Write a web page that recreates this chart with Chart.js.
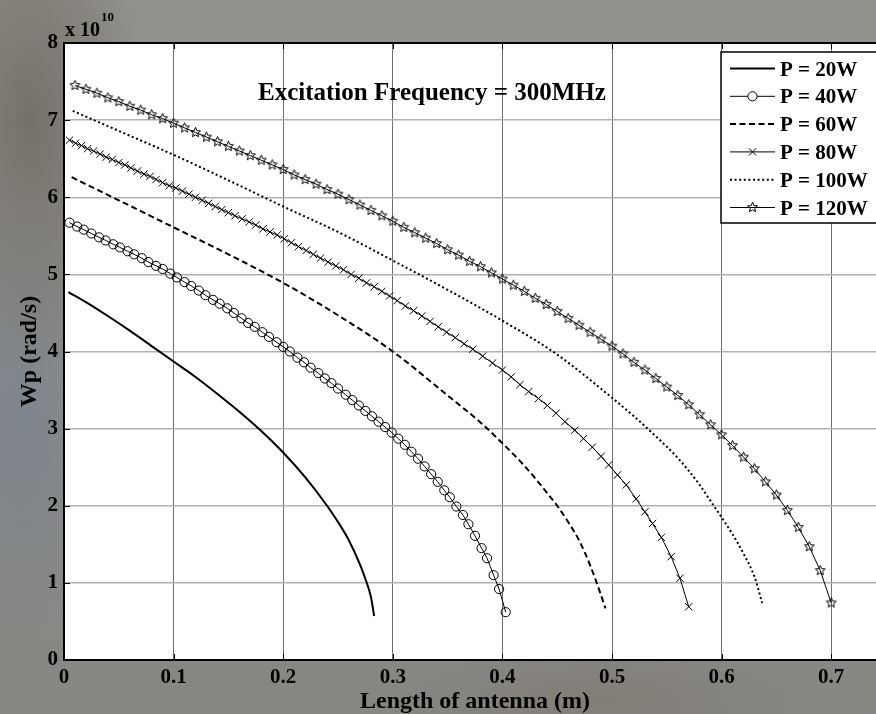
<!DOCTYPE html>
<html>
<head>
<meta charset="utf-8">
<title>Wp vs length of antenna</title>
<script src="https://cdn.jsdelivr.net/npm/chart.js@4.4.1/dist/chart.umd.min.js"></script>
<style>
  html, body { margin: 0; padding: 0; width: 876px; height: 714px; overflow: hidden; }
  body {
    background:
      radial-gradient(ellipse 120px 260px at 30px 120px, rgba(95, 88, 78, 0.55), transparent),
      radial-gradient(ellipse 90px 220px at 20px 420px, rgba(110, 125, 145, 0.45), transparent),
      radial-gradient(ellipse 200px 60px at 600px 700px, rgba(120, 110, 95, 0.35), transparent),
      linear-gradient(#93928c, #8c8c8a 55%, #878683);
  }
  canvas { display: block; }
</style>
</head>
<body>
<canvas id="wpChart" width="900" height="714"></canvas>
<script>
// --- Data (Wp in units of 1e10 rad/s, length in m) ---
const titleText = 'Excitation Frequency = 300MHz';
const xTitle = 'Length of antenna (m)';
const yTitle = 'Wp (rad/s)';
const seriesLabels = ['P = 20W', 'P = 40W', 'P = 60W', 'P = 80W', 'P = 100W', 'P = 120W'];

const len20 = [0.004, 0.02, 0.04, 0.06, 0.08, 0.10, 0.12, 0.14, 0.16, 0.18, 0.20, 0.22, 0.24, 0.25, 0.26, 0.27, 0.275, 0.28, 0.283];
const wp20 = [4.77, 4.64, 4.46, 4.27, 4.07, 3.87, 3.67, 3.45, 3.22, 2.97, 2.69, 2.37, 2.00, 1.79, 1.55, 1.24, 1.05, 0.82, 0.57];

const len40 = [0.005, 0.012, 0.018, 0.025, 0.032, 0.038, 0.045, 0.051, 0.058, 0.064, 0.071, 0.077, 0.084, 0.090, 0.097,
  0.103, 0.110, 0.116, 0.123, 0.129, 0.136, 0.142, 0.149, 0.155, 0.162, 0.168, 0.174, 0.181, 0.187, 0.194,
  0.200, 0.206, 0.213, 0.219, 0.225, 0.232, 0.238, 0.244, 0.250, 0.257, 0.263, 0.269, 0.275, 0.281, 0.287,
  0.293, 0.299, 0.305, 0.311, 0.317, 0.323, 0.329, 0.335, 0.341, 0.347, 0.352, 0.358, 0.364, 0.369, 0.375,
  0.381, 0.386, 0.392, 0.397, 0.403];
const wp40 = [5.67, 5.62, 5.58, 5.53, 5.48, 5.44, 5.39, 5.35, 5.30, 5.26, 5.21, 5.16, 5.11, 5.07, 5.01,
  4.96, 4.90, 4.85, 4.79, 4.73, 4.67, 4.62, 4.56, 4.50, 4.43, 4.37, 4.32, 4.25, 4.19, 4.12,
  4.06, 4.00, 3.92, 3.86, 3.79, 3.72, 3.65, 3.59, 3.52, 3.44, 3.37, 3.30, 3.23, 3.16, 3.09,
  3.02, 2.95, 2.87, 2.79, 2.70, 2.61, 2.51, 2.41, 2.31, 2.20, 2.11, 1.99, 1.88, 1.76, 1.61,
  1.45, 1.32, 1.10, 0.92, 0.62];

const len60 = [0.007, 0.05, 0.10, 0.15, 0.20, 0.25, 0.30, 0.35, 0.38, 0.40, 0.42, 0.44, 0.45, 0.46, 0.47, 0.48, 0.49, 0.494];
const wp60 = [6.26, 5.96, 5.61, 5.26, 4.89, 4.47, 4.00, 3.43, 3.08, 2.81, 2.52, 2.18, 2.00, 1.79, 1.55, 1.23, 0.84, 0.67];

const len80 = [0.005, 0.0105, 0.016, 0.0215, 0.027, 0.033, 0.0385, 0.044, 0.050, 0.0555, 0.061, 0.067, 0.073, 0.0785, 0.084,
  0.090, 0.096, 0.102, 0.108, 0.114, 0.120, 0.126, 0.132, 0.138, 0.144, 0.150, 0.156, 0.1625, 0.169, 0.175,
  0.1815, 0.188, 0.1945, 0.201, 0.2075, 0.214, 0.221, 0.2275, 0.234, 0.241, 0.248, 0.255, 0.262, 0.269, 0.276,
  0.283, 0.290, 0.297, 0.304, 0.3115, 0.319, 0.3265, 0.334, 0.3415, 0.349, 0.357, 0.365, 0.373, 0.382, 0.391,
  0.400, 0.408, 0.416, 0.424, 0.433, 0.441, 0.449, 0.457, 0.466, 0.474, 0.482, 0.490, 0.497, 0.505, 0.513,
  0.522, 0.530, 0.537, 0.545, 0.554, 0.562, 0.570];
const wp80 = [6.74, 6.70, 6.67, 6.63, 6.60, 6.56, 6.52, 6.49, 6.45, 6.42, 6.38, 6.34, 6.30, 6.27, 6.23,
  6.19, 6.15, 6.12, 6.08, 6.04, 6.00, 5.96, 5.92, 5.88, 5.84, 5.80, 5.76, 5.72, 5.68, 5.64,
  5.59, 5.55, 5.51, 5.46, 5.41, 5.36, 5.31, 5.26, 5.21, 5.16, 5.11, 5.06, 5.00, 4.95, 4.89,
  4.84, 4.78, 4.72, 4.66, 4.59, 4.53, 4.46, 4.39, 4.32, 4.25, 4.18, 4.10, 4.03, 3.94, 3.85,
  3.76, 3.67, 3.57, 3.48, 3.39, 3.30, 3.20, 3.09, 2.98, 2.87, 2.76, 2.64, 2.53, 2.40, 2.27,
  2.09, 1.92, 1.77, 1.59, 1.34, 1.06, 0.69];

const len100 = [0.008, 0.05, 0.10, 0.15, 0.20, 0.25, 0.30, 0.35, 0.40, 0.45, 0.50, 0.52, 0.54, 0.56, 0.58, 0.59, 0.60, 0.61, 0.62, 0.63, 0.637];
const wp100 = [7.12, 6.86, 6.55, 6.22, 5.88, 5.55, 5.18, 4.80, 4.40, 3.96, 3.40, 3.16, 2.90, 2.62, 2.27, 2.06, 1.85, 1.63, 1.38, 1.08, 0.74];

const len120 = [0.01, 0.02, 0.03, 0.04, 0.05, 0.06, 0.07, 0.08, 0.09, 0.10,
  0.11, 0.12, 0.13, 0.14, 0.15, 0.16, 0.17, 0.18, 0.19, 0.20,
  0.21, 0.22, 0.23, 0.24, 0.25, 0.26, 0.27, 0.28, 0.29, 0.30,
  0.31, 0.32, 0.33, 0.34, 0.35, 0.36, 0.37, 0.38, 0.39, 0.40,
  0.41, 0.42, 0.43, 0.44, 0.45, 0.46, 0.47, 0.48, 0.49, 0.50,
  0.51, 0.52, 0.53, 0.54, 0.55, 0.56, 0.57, 0.58, 0.59, 0.60,
  0.61, 0.62, 0.63, 0.64, 0.65, 0.66, 0.67, 0.68, 0.69, 0.70];
const wp120 = [7.45, 7.40, 7.35, 7.29, 7.24, 7.18, 7.13, 7.07, 7.02, 6.96,
  6.90, 6.84, 6.78, 6.72, 6.66, 6.60, 6.54, 6.48, 6.42, 6.36,
  6.29, 6.23, 6.17, 6.10, 6.04, 5.97, 5.90, 5.83, 5.76, 5.69,
  5.61, 5.54, 5.47, 5.40, 5.32, 5.25, 5.17, 5.10, 5.02, 4.94,
  4.86, 4.78, 4.69, 4.61, 4.52, 4.43, 4.34, 4.25, 4.16, 4.07,
  3.97, 3.86, 3.76, 3.65, 3.54, 3.43, 3.31, 3.18, 3.05, 2.92,
  2.78, 2.63, 2.48, 2.31, 2.14, 1.94, 1.72, 1.47, 1.16, 0.74];

const xTicksMax = 0.75;
const yTicksMax = 8;

// --- Helpers ---
const FONT = "'Liberation Serif', 'Times New Roman', serif";
const toPoints = (xs, ys) => xs.map((x, i) => ({ x: x, y: ys[i] }));

// hollow five-point star marker (Chart.js has no such point style)
const makeStar = (r) => {
    const size = Math.ceil(r * 2 + 4);
    const c = document.createElement('canvas');
    c.width = c.height = size;
    const g = c.getContext('2d');
    g.beginPath();
    for (let i = 0; i < 10; i++) {
        const rad = i % 2 === 0 ? r : r * 0.45;
        const ang = -Math.PI / 2 + i * Math.PI / 5;
        const px = size / 2 + rad * Math.cos(ang);
        const py = size / 2 + rad * Math.sin(ang);
        if (i === 0) g.moveTo(px, py); else g.lineTo(px, py);
    }
    g.closePath();
    g.strokeStyle = '#000';
    g.lineWidth = 1;
    g.stroke();
    return c;
};
const starImg = makeStar(5.2);

const lineOnly = { pointRadius: 0, cubicInterpolationMode: 'monotone', borderWidth: 2 };
const withMarks = { borderWidth: 1, pointBorderWidth: 1, pointBackgroundColor: 'rgba(0,0,0,0)', pointBorderColor: '#000' };

const datasets = [
    { label: seriesLabels[0], data: toPoints(len20, wp20), ...lineOnly },
    { label: seriesLabels[1], data: toPoints(len40, wp40), ...withMarks, pointStyle: 'circle', pointRadius: 4.6 },
    { label: seriesLabels[2], data: toPoints(len60, wp60), ...lineOnly, borderDash: [6, 3.5] },
    { label: seriesLabels[3], data: toPoints(len80, wp80), ...withMarks, pointStyle: 'crossRot', pointRadius: 5.2 },
    { label: seriesLabels[4], data: toPoints(len100, wp100), ...lineOnly, borderDash: [2, 2.6] },
    { label: seriesLabels[5], data: toPoints(len120, wp120), ...withMarks, pointStyle: starImg, pointRadius: 5.2 }
];
datasets.forEach(d => { d.borderColor = '#000'; d.fill = false; });

// --- Plot frame, inward ticks, title and MATLAB-like legend ---
const decorations = {
    id: 'decorations',
    beforeDraw(chart) {
        const { ctx, chartArea: a } = chart;
        ctx.save();
        ctx.fillStyle = '#fff';
        ctx.fillRect(a.left, a.top, a.right - a.left, a.bottom - a.top);
        ctx.restore();
    },
    afterDraw(chart) {
        const { ctx, chartArea: a, scales } = chart;
        ctx.save();

        // top edge of the box
        ctx.strokeStyle = '#000';
        ctx.lineWidth = 2;
        ctx.beginPath();
        ctx.moveTo(a.left, a.top);
        ctx.lineTo(a.right, a.top);
        ctx.stroke();

        // inward tick marks
        ctx.lineWidth = 1;
        ctx.beginPath();
        scales.x.ticks.forEach(t => {
            const px = Math.round(scales.x.getPixelForValue(t.value)) + 0.5;
            ctx.moveTo(px, a.bottom); ctx.lineTo(px, a.bottom - 6);
            ctx.moveTo(px, a.top); ctx.lineTo(px, a.top + 6);
        });
        scales.y.ticks.forEach(t => {
            const py = Math.round(scales.y.getPixelForValue(t.value)) + 0.5;
            ctx.moveTo(a.left, py); ctx.lineTo(a.left + 6, py);
        });
        ctx.stroke();

        // exponent label
        ctx.fillStyle = '#000';
        ctx.textAlign = 'left';
        ctx.textBaseline = 'alphabetic';
        ctx.font = `bold 20px ${FONT}`;
        ctx.fillText('x 10', a.left + 1, a.top - 7);
        const w = ctx.measureText('x 10').width;
        ctx.font = `bold 13px ${FONT}`;
        ctx.fillText('10', a.left + 2 + w, a.top - 22);

        // chart title inside the axes
        ctx.font = `bold 25px ${FONT}`;
        ctx.fillText(titleText, 258, 100);

        // legend box
        const box = { x: 721, y: 52, w: a.right - 8 - 721, h: 171 };
        ctx.fillStyle = '#fff';
        ctx.fillRect(box.x, box.y, box.w, box.h);
        ctx.strokeStyle = '#000';
        ctx.lineWidth = 1.5;
        ctx.strokeRect(box.x, box.y, box.w, box.h);

        const rowH = 27.8;
        chart.data.datasets.forEach((d, i) => {
            const cy = box.y + 16.5 + i * rowH;
            const x0 = box.x + 9, x1 = box.x + 54, xm = (x0 + x1) / 2;
            ctx.strokeStyle = '#000';
            ctx.lineWidth = d.borderWidth;
            ctx.setLineDash(d.borderDash || []);
            ctx.beginPath();
            ctx.moveTo(x0, cy);
            ctx.lineTo(x1, cy);
            ctx.stroke();
            ctx.setLineDash([]);
            ctx.lineWidth = 1;
            if (d.pointStyle === 'circle') {
                ctx.fillStyle = '#fff';
                ctx.beginPath();
                ctx.arc(xm, cy, d.pointRadius, 0, Math.PI * 2);
                ctx.fill();
                ctx.stroke();
            } else if (d.pointStyle === 'crossRot') {
                const r = d.pointRadius * 0.7;
                ctx.beginPath();
                ctx.moveTo(xm - r, cy - r); ctx.lineTo(xm + r, cy + r);
                ctx.moveTo(xm - r, cy + r); ctx.lineTo(xm + r, cy - r);
                ctx.stroke();
            } else if (d.pointStyle instanceof HTMLCanvasElement) {
                ctx.drawImage(d.pointStyle, xm - d.pointStyle.width / 2, cy - d.pointStyle.height / 2);
            }
            ctx.fillStyle = '#000';
            ctx.font = `bold 21px ${FONT}`;
            ctx.fillText(d.label, box.x + 59, cy + 7);
        });
        ctx.restore();
    }
};

const tickFont = { family: FONT, size: 21, weight: 'bold' };
const titleFont = { family: FONT, size: 24, weight: 'bold', lineHeight: 1 };

new Chart(document.getElementById('wpChart'), {
    type: 'line',
    data: { datasets: datasets },
    plugins: [decorations],
    options: {
        responsive: false,
        animation: false,
        layout: { padding: { left: 0, top: 43, right: 14, bottom: 0 } },
        plugins: { legend: { display: false }, tooltip: { enabled: false } },
        elements: { line: { tension: 0 } },
        scales: {
            x: {
                type: 'linear',
                min: 0,
                max: xTicksMax,
                afterFit: (s) => { s.height = 54; },
                ticks: {
                    stepSize: 0.1,
                    includeBounds: false,
                    autoSkip: false,
                    maxRotation: 0,
                    padding: 5,
                    color: '#000',
                    font: tickFont,
                    callback: (v) => v === 0 ? '0' : v.toFixed(1)
                },
                grid: { color: '#707070', lineWidth: 1, drawTicks: false },
                border: { color: '#000', width: 2 },
                title: { display: true, text: xTitle, color: '#000', font: titleFont, padding: { top: 0, bottom: 0 } }
            },
            y: {
                min: 0,
                max: yTicksMax,
                afterFit: (s) => { s.width = 64; },
                ticks: { stepSize: 1, padding: 6, color: '#000', font: tickFont },
                grid: { color: '#b0b0b0', lineWidth: 1.5, drawTicks: false },
                border: { color: '#000', width: 2 },
                title: { display: true, text: yTitle, color: '#000', font: titleFont, padding: { top: 18, bottom: 0 } }
            }
        }
    }
});
</script>
</body>
</html>
